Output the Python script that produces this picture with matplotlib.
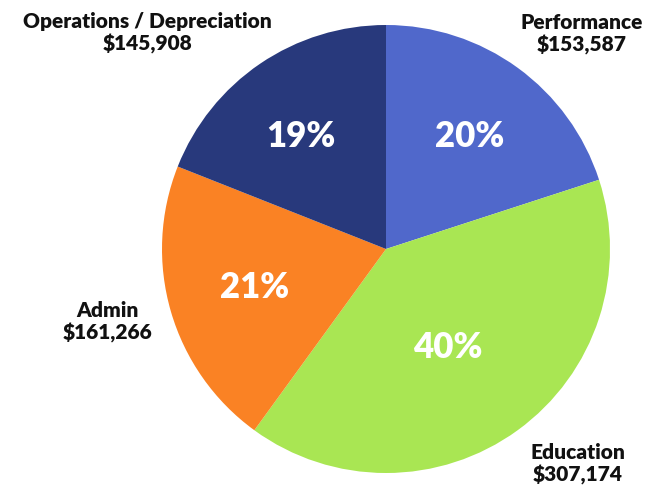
import matplotlib.pyplot as plt

# Data
categories = ['Performance', 'Education', 'Admin', 'Operations / Depreciation']
amounts = [153587, 307174, 161266, 145908]
colors = ['#5068CB', '#A9E653', '#FA8224', '#28397C']

W, H = 654, 489
fig = plt.figure(figsize=(W / 100, H / 100), dpi=100)

# pie placed by pixel geometry
cx, cy, r = 386, 250, 224
ax = fig.add_axes([(cx - r) / W, (H - cy - r) / H, 2 * r / W, 2 * r / H])
ax.set_aspect('equal')

wedges, _ = ax.pie(amounts, colors=colors, startangle=90, counterclock=False,
                   radius=1, wedgeprops=dict(linewidth=0))
ax.set_xlim(-1, 1)
ax.set_ylim(-1, 1)
ax.axis('off')

total = sum(amounts)
pct = [round(a / total * 100) for a in amounts]

# percentage labels inside the wedges (pixel positions)
pct_pos = [(470, 137), (448, 348), (255, 288), (301, 137)]
for p, (px, py) in zip(pct, pct_pos):
    fig.text(px / W, 1 - py / H, f'{p}%', color='white', fontsize=25,
             fontweight='heavy', family='Lato', ha='center', va='center')

# outside labels
lab_pos = [(582, 34), (578, 464), (107, 322), (147, 33)]
for name, amt, (px, py) in zip(categories, amounts, lab_pos):
    fig.text(px / W, 1 - py / H, f'{name}\n${amt:,}', color='#111111',
             fontsize=15, fontweight='heavy', family='Lato', ha='center',
             va='center', linespacing=1.15)

fig.savefig('out.png', dpi=100)
